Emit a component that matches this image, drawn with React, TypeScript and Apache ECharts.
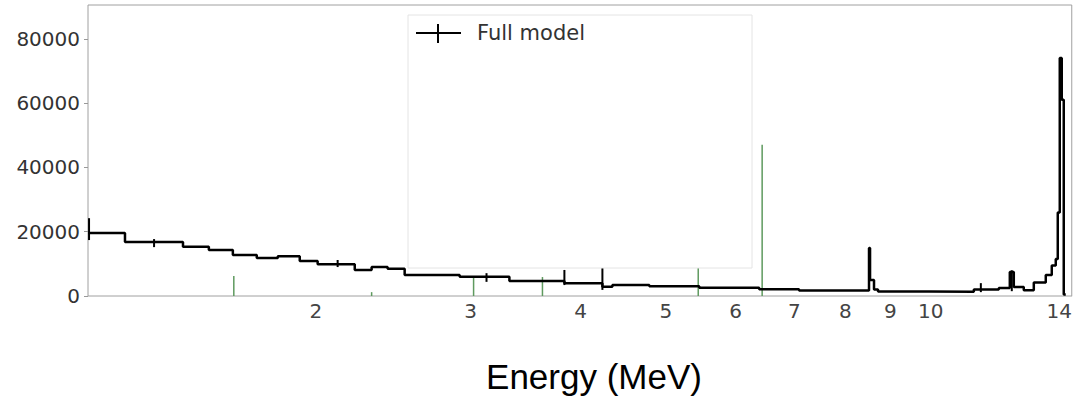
import React, { useEffect, useRef } from "react";
import * as echarts from "echarts";

// Step histogram: bin edges (MeV) and counts per bin
const binEdges = [
  1.102, 1.214, 1.413, 1.512, 1.61, 1.714, 1.811, 1.918, 2.01, 2.215, 2.315, 2.414, 2.524, 2.915,
  3.32, 3.834, 4.235, 4.347, 4.788, 5.457, 6.383, 7.085, 8.509, 8.532, 8.621, 8.712, 9.953, 11.195,
  11.951, 12.3, 12.429, 12.758, 13.097, 13.514, 13.728, 13.872, 13.945, 14.018, 14.091, 14.165, 14.239,
];
const binCounts = [
  19600, 16800, 15300, 14300, 12750, 11800, 12400, 10900, 9900, 8100, 9000, 8500, 6500, 6000, 4700,
  4000, 2900, 3400, 3000, 2600, 2100, 1700, 14900, 5000, 2000, 1400, 1300, 2000, 2500, 7500, 2800,
  1800, 4200, 6500, 9500, 11500, 26000, 74000, 61000, 500,
];

// Error bars: energy, low, high
const errEnergy = [1.105, 1.31, 2.118, 3.127, 3.834, 4.235, 11.402, 12.364];
const errLow = [17400, 15200, 9000, 4400, 3400, 1900, 1200, 1500];
const errHigh = [24200, 17700, 11200, 7100, 8100, 8700, 4000, 8000];

// Green line components (energy, height)
const lineEnergy = [1.614, 2.315, 3.023, 3.62, 5.442, 6.433];
const lineHeight = [6200, 1200, 5600, 5900, 10000, 47000];

const xTickValues = [2, 3, 4, 5, 6, 7, 8, 9, 10, 14];
const xMinE = 1.102;
const xMaxE = 14.465;
const yMax = 90500;

export default function App() {
  const ref = useRef<HTMLDivElement>(null);
  useEffect(() => {
    if (!ref.current) return;
    const chart = echarts.init(ref.current, undefined, { renderer: "svg" });
    const lg = Math.log10;
    const stepData = binEdges.map((e, i) => [lg(e), binCounts[Math.min(i, binCounts.length - 1)]]);
    const errData = errEnergy.map((e, i) => [lg(e), errLow[i], errHigh[i]]);
    const greenData = lineEnergy.map((e, i) => [lg(e), 0, lineHeight[i]]);
    const segRender = (color: string, width: number) => (params: any, api: any) => {
      const p1 = api.coord([api.value(0), api.value(1)]);
      const p2 = api.coord([api.value(0), api.value(2)]);
      return {
        type: "line",
        shape: { x1: p1[0], y1: p1[1], x2: p2[0], y2: p2[1] },
        style: { stroke: color, lineWidth: width },
      };
    };
    chart.setOption({
      animation: false,
      grid: {
        left: 88,
        right: 2,
        top: 5,
        bottom: 102,
        show: true,
        borderColor: "#a0a0a0",
        borderWidth: 1,
        backgroundColor: "#fff",
      },
      xAxis: {
        type: "value",
        min: lg(xMinE),
        max: lg(xMaxE),
        axisLine: { show: true, lineStyle: { color: "#cfcfcf" } },
        splitLine: { show: false },
        axisTick: { show: false },
        axisLabel: {
          customValues: xTickValues.map((v) => lg(v)),
          formatter: (v: number) => String(Math.round(Math.pow(10, v))),
          fontSize: 20,
          fontFamily: "DejaVu Sans",
          color: "#444",
          margin: 5,
        },
      },
      yAxis: {
        type: "value",
        min: 0,
        max: yMax,
        interval: 20000,
        axisLine: { show: false },
        splitLine: { show: false },
        axisTick: { show: true, length: 4, lineStyle: { color: "#999" } },
        axisLabel: {
          formatter: (v: number) => String(v),
          fontSize: 20,
          fontFamily: "DejaVu Sans",
          color: "#333",
          margin: 8,
          showMaxLabel: false,
        },
      },
      series: [
        {
          type: "custom",
          name: "lines",
          z: 1,
          renderItem: segRender("#5f9a5f", 1.5),
          encode: { x: 0, y: [1, 2] },
          data: greenData,
        },
        {
          type: "line",
          name: "Full model",
          z: 3,
          step: "end",
          showSymbol: false,
          lineStyle: { color: "#000", width: 2.5 },
          data: stepData,
        },
        {
          type: "custom",
          name: "err",
          z: 4,
          renderItem: segRender("#000", 2),
          encode: { x: 0, y: [1, 2] },
          data: errData,
        },
      ],
      graphic: [
        {
          type: "rect",
          z: 100,
          shape: { x: 408, y: 15, width: 344, height: 253 },
          style: { fill: "#fff", stroke: "#e4e4e4", lineWidth: 1 },
        },
        {
          type: "line",
          z: 101,
          shape: { x1: 416, y1: 33, x2: 461, y2: 33 },
          style: { stroke: "#000", lineWidth: 2 },
        },
        {
          type: "line",
          z: 101,
          shape: { x1: 438, y1: 24, x2: 438, y2: 43 },
          style: { stroke: "#000", lineWidth: 2 },
        },
        {
          type: "text",
          z: 101,
          x: 477,
          y: 33,
          style: {
            text: "Full model",
            fill: "#333",
            font: "21px 'DejaVu Sans'",
            textVerticalAlign: "middle",
          },
        },
        {
          type: "text",
          z: 101,
          x: 594,
          y: 376,
          style: {
            text: "Energy (MeV)",
            fill: "#000",
            font: "35px 'Liberation Sans'",
            textAlign: "center",
            textVerticalAlign: "middle",
          },
        },
      ],
    });
    return () => chart.dispose();
  }, []);
  return (
    <div
      ref={ref}
      style={{ position: "absolute", left: 0, top: 0, width: 1075, height: 398 }}
    />
  );
}
